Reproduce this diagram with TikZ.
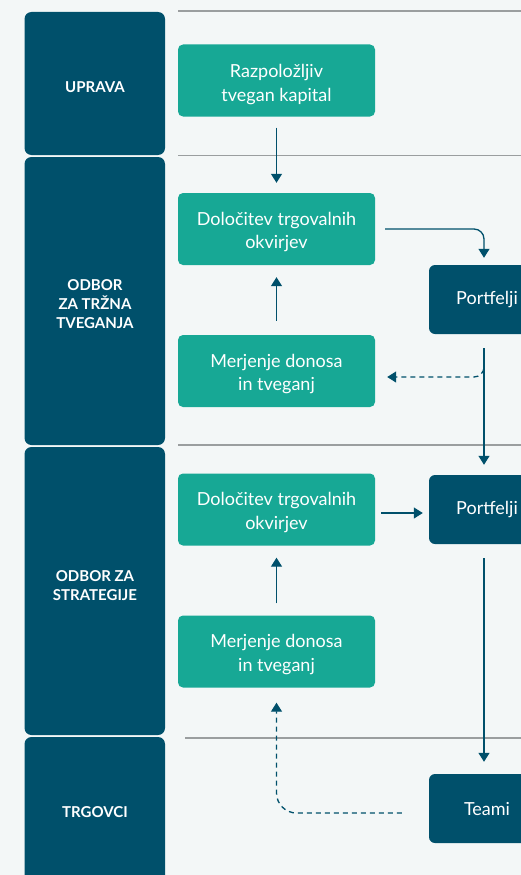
\documentclass[tikz,border=0pt]{standalone}
\usepackage{fontspec}
\setmainfont{Lato}
\usetikzlibrary{arrows.meta}
\definecolor{bgc}{HTML}{F3F7F7}
\definecolor{darkb}{HTML}{00506B}
\definecolor{greenb}{HTML}{17A895}
\definecolor{grayl}{HTML}{9A9E9F}
\tikzset{
  lanelabel/.style={text=white, font=\bfseries\fontsize{15}{19}\selectfont, align=center},
  greenbox/.style={fill=greenb, rounded corners=5pt, minimum width=197pt, minimum height=72pt, inner sep=0pt},
  gtext/.style={text=white, font=\fontsize{18}{23.5}\selectfont, align=center, inner sep=0pt},
  darkbox/.style={fill=darkb, rounded corners=6pt, text=white, font=\fontsize{18}{24}\selectfont, align=center, minimum width=116pt, minimum height=69pt, inner sep=0pt},
  sep/.style={draw=grayl, line width=1.5pt},
  conn/.style={draw=darkb, line width=1.3pt, -{Triangle[width=11pt,length=9pt]}},
  dconn/.style={conn, dashed, dash pattern=on 5pt off 4pt}
}
\begin{document}
\begin{tikzpicture}[x=1pt,y=-1pt]
\useasboundingbox (0,0) rectangle (521,875);
\clip (0,0) rectangle (521,875);
\fill[bgc] (0,0) rectangle (521,875);
% lane boxes
\fill[darkb, rounded corners=7pt] (24.5,12) rectangle (165,155);
\fill[darkb, rounded corners=7pt] (24.5,157) rectangle (165,445);
\fill[darkb, rounded corners=7pt] (24.5,447) rectangle (165,735);
\fill[darkb, rounded corners=7pt] (24.5,737) rectangle (165,900);
\node[lanelabel] (l1) at (95,87) {UPRAVA};
\node[lanelabel] (l2) at (95,304) {ODBOR\\ZA TRŽNA\\TVEGANJA};
\node[lanelabel] (l3) at (95,586) {ODBOR ZA\\STRATEGIJE};
\node[lanelabel] (l4) at (95,812) {TRGOVCI};
% separators
\draw[sep] (178,11) -- (521,11);
\draw[sep] (178,155.5) -- (521,155.5);
\draw[sep] (178,445) -- (521,445);
\draw[sep] (185,738) -- (521,738);
% green boxes
\node[greenbox] (rk) at (276.5,80.5) {};
\node[greenbox] (d1) at (276.5,229) {};
\node[greenbox] (m1) at (276.5,371) {};
\node[greenbox] (d2) at (276.5,509.5) {};
\node[greenbox] (m2) at (276.5,651.5) {};
\node[gtext] (rkt) at ([yshift=-4pt]rk.center) {Razpoložljiv\\tvegan kapital};
\node[gtext] (d1t) at ([yshift=-3pt]d1.center) {Določitev trgovalnih\\okvirjev};
\node[gtext] (m1t) at ([yshift=-3pt]m1.center) {Merjenje donosa\\in tveganj};
\node[gtext] (d2t) at ([yshift=-3pt]d2.center) {Določitev trgovalnih\\okvirjev};
\node[gtext] (m2t) at ([yshift=-3pt]m2.center) {Merjenje donosa\\in tveganj};
% dark boxes
\node[darkbox] (p1) at (487,299.5) {Portfelji};
\node[darkbox] (p2) at (487,509.5) {Portfelji};
\node[darkbox] (t) at (487,808.5) {Teami};
\coordinate (col) at (484,0);
\coordinate (d2out) at ([xshift=6pt,yshift=-3.5pt]d2.east);
% connectors
\draw[conn] ([yshift=-11pt]rk.south) -- ([yshift=10pt]d1.north);
\draw[conn] ([yshift=14pt]m1.north) -- ([yshift=-12pt]d1.south);
\draw[conn, rounded corners=10pt] ([xshift=10pt]d1.east) -| ([yshift=7pt]col |- p1.north);
\draw[conn] ([yshift=-14pt]col |- p1.south) -- ([yshift=10pt]col |- p2.north);
\draw[dconn, rounded corners=10pt] ([yshift=-26pt]col |- p1.south) |- ([xshift=12pt,yshift=-6pt]m1.east);
\draw[conn] (d2out) -- ([xshift=-6pt]p2.west |- d2out);
\draw[conn] ([yshift=12pt]m2.north) -- ([yshift=-12pt]d2.south);
\draw[conn] ([yshift=-14pt]col |- p2.south) -- ([yshift=12pt]col |- t.north);
\draw[dconn, rounded corners=20pt] ([xshift=-27pt,yshift=-4.5pt]t.west) -| ([yshift=-15pt]m2.south);
\end{tikzpicture}
\end{document}
